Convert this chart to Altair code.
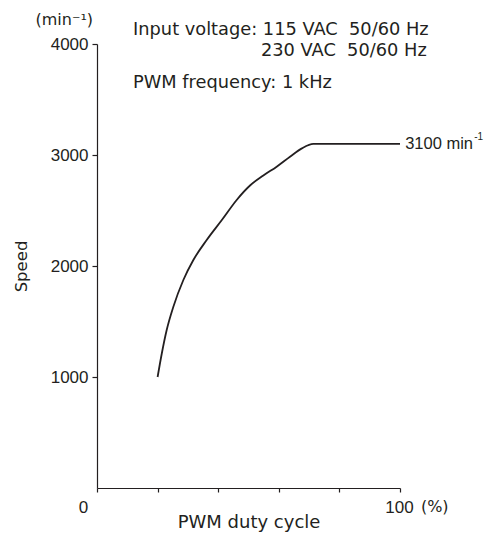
import altair as alt
import pandas as pd

# Curve data
duty = [20.0, 21.4, 23.0, 25.2, 28.5, 31.8, 36.2, 41.2, 46.1, 50.5, 54.9, 59.3, 63.7, 67.6, 71.4, 100.0]
speed = [1000, 1214, 1423, 1633, 1874, 2054, 2234, 2414, 2595, 2725, 2815, 2895, 2985, 3060, 3100, 3100]

x_ticks = [0, 20, 40, 60, 80, 100]
y_ticks = [1000, 2000, 3000, 4000]

note_text = ["Input voltage: 115 VAC\u00a0 50/60 Hz", "230 VAC\u00a0 50/60 Hz", "PWM frequency: 1 kHz"]
note_x = [11.9, 54.1, 11.9]
note_y = [4126, 3937, 3649]

end_label = ["3100 min"]
end_sup = ["-1"]
end_x = [101.7]
end_y = [3100]

yunit_text = ["(min\u207b\u00b9)"]
yunit_x = [-1.3]
yunit_y = [4216]

xunit_text = ["(%)"]
xunit_x = [106.9]
xunit_y = [-171]

INK = "#231f20"
FONT = "DejaVu Sans"
NUMFONT = "Liberation Sans"

curve = pd.DataFrame({"duty": duty, "speed": speed})
notes = pd.DataFrame({"x": note_x, "y": note_y, "t": note_text})
endl = pd.DataFrame({"x": end_x, "y": end_y, "t": end_label, "s": end_sup})
yunit = pd.DataFrame({"x": yunit_x, "y": yunit_y, "t": yunit_text})
xunit = pd.DataFrame({"x": xunit_x, "y": xunit_y, "t": xunit_text})

xs = alt.Scale(domain=[0, 100], nice=False, zero=False)
ys = alt.Scale(domain=[0, 4000], nice=False)

line = alt.Chart(curve).mark_line(color=INK, strokeWidth=1.8, interpolate="monotone").encode(
    x=alt.X("duty:Q", scale=xs, axis=alt.Axis(
        values=x_ticks, title="PWM duty cycle", grid=False, labelFlush=False,
        labelExpr="datum.value == 0 || datum.value == 100 ? datum.label : ''",
        labelOffset={"condition": {"test": "datum.value == 0", "value": -14}, "value": -1},
        tickSize=4, tickWidth=1.2, domainWidth=1.2, domainColor=INK, tickColor=INK,
        labelFont=NUMFONT, labelFontSize=17, labelColor=INK, labelPadding=7,
        titleFont=FONT, titleFontSize=18, titleFontWeight="normal", titleColor=INK,
        titleBaseline="alphabetic", titleY=39)),
    y=alt.Y("speed:Q", scale=ys, axis=alt.Axis(
        values=y_ticks, title="Speed", grid=False, format="d",
        tickSize=5, tickWidth=1.2, domainWidth=1.2, domainColor=INK, tickColor=INK,
        labelFont=NUMFONT, labelFontSize=17, labelColor=INK, labelPadding=4,
        titleFont=FONT, titleFontSize=16.5, titleFontWeight="normal", titleColor=INK,
        titleX=-76, titleY=222, titleBaseline="middle", titleAngle=-90)),
)

note_layer = alt.Chart(notes).mark_text(align="left", baseline="middle", font=FONT, fontSize=17.8, color=INK).encode(
    x=alt.X("x:Q", scale=xs), y=alt.Y("y:Q", scale=ys), text="t:N")

end_layer = alt.Chart(endl).mark_text(align="left", baseline="middle", font=NUMFONT, fontSize=16.5, color=INK).encode(
    x=alt.X("x:Q", scale=xs), y=alt.Y("y:Q", scale=ys), text="t:N")

end_sup_layer = alt.Chart(endl).mark_text(align="left", baseline="middle", font=NUMFONT, fontSize=10,
                                          dx=69, dy=-7, color=INK).encode(
    x=alt.X("x:Q", scale=xs), y=alt.Y("y:Q", scale=ys), text="s:N")

yunit_layer = alt.Chart(yunit).mark_text(align="right", baseline="middle", font=FONT, fontSize=16, color=INK).encode(
    x=alt.X("x:Q", scale=xs), y=alt.Y("y:Q", scale=ys), text="t:N")

xunit_layer = alt.Chart(xunit).mark_text(align="left", baseline="middle", font=FONT, fontSize=16, color=INK).encode(
    x=alt.X("x:Q", scale=xs), y=alt.Y("y:Q", scale=ys), text="t:N")

chart = alt.layer(line, note_layer, end_layer, end_sup_layer, yunit_layer, xunit_layer).properties(
    width=303, height=444,
    autosize=alt.AutoSizeParams(type="none"),
    padding={"left": 89, "top": 36, "right": 85, "bottom": 44},
).configure_view(stroke=None)

chart.save("out.html", embed_options={"renderer": "svg", "actions": False})
